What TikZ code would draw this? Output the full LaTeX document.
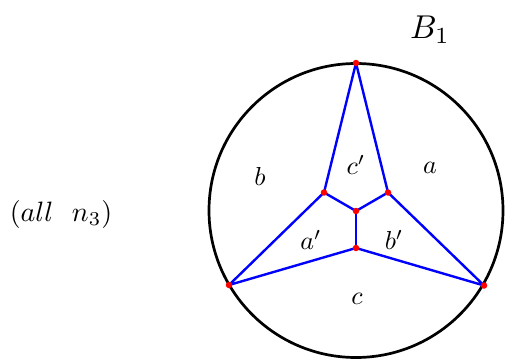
\documentclass[tikz,border=0pt]{standalone}
\usepackage{graphicx}
\newcommand{\lblsc}[1]{\scalebox{2.6}{$#1$}}
\begin{document}
\begin{tikzpicture}[x=1pt,y=-1pt,
  edge/.style={blue,line width=2.4pt},
  vdot/.style={circle,fill=red,inner sep=0pt,minimum size=6.5pt},
  lbl/.style={inner sep=0pt}]
\useasboundingbox (0,0) rectangle (505,361);
\draw[black,line width=2.7pt] (356,210.5) circle[radius=147];
\coordinate (T) at (356,63);
\coordinate (L) at (229,285);
\coordinate (R) at (484,285.5);
\coordinate (IL) at (324,192.5);
\coordinate (IR) at (388,192.5);
\coordinate (C) at (356,211);
\coordinate (IB) at (356,248);
\draw[edge,line join=round] (T) -- (IL) -- (L) -- (IB) -- (R) -- (IR) -- (T);
\draw[edge,line join=round] (IL) -- (C) -- (IR);
\draw[edge] (C) -- (IB);
\foreach \p in {T,L,R,IL,IR,C,IB} \node[vdot] at (\p) {};
\node[lbl] (lb) at (260,176) {\lblsc{b}};
\node[lbl] (lcp) at (356,165) {\lblsc{c'}};
\node[lbl] (la) at (430,168) {\lblsc{a}};
\node[lbl] (lap) at (311,240) {\lblsc{a'}};
\node[lbl] (lbp) at (394,240) {\lblsc{b'}};
\node[lbl] (lc) at (357,299) {\lblsc{c}};
\node[lbl] (B) at (430,30) {\scalebox{3.3}{$B_1$}};
\node[lbl] (all) at (61,214) {\scalebox{2.8}{$(all\ \ n_3)$}};
\end{tikzpicture}
\end{document}
